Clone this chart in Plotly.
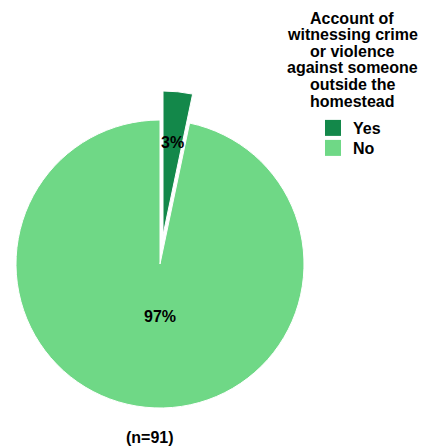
import plotly.graph_objects as go

# ---- data ----
labels = ["Yes", "No"]
values = [3, 88]
colors = ["#13884A", "#6FD886"]
legend_title_lines = ["Account of", "witnessing crime", "or violence",
                      "against someone", "outside the", "homestead"]
sample_note = "(n=91)"

# ---- geometry / style ----
W, H = 425, 446
FONT = "Liberation Sans, Arial, sans-serif"
cx, cy, r = 160, 264, 144          # main pie centre and radius (px)
pull_dx, pull_dy = 3, -29          # offset of the exploded slice (px)

def dom(x0, y0, rad):
    return dict(x=[(x0 - rad) / W, (x0 + rad) / W],
                y=[1 - (y0 + rad) / H, 1 - (y0 - rad) / H])

total = sum(values)
pcts = [round(v / total * 100) for v in values]
clear = "rgba(0,0,0,0)"

fig = go.Figure()
# remaining (not exploded) slice
fig.add_trace(go.Pie(
    labels=labels, values=values, sort=False, direction="clockwise",
    marker=dict(colors=[clear, colors[1]],
                line=dict(color=[clear, "white"], width=1)),
    textinfo="none", hoverinfo="skip", showlegend=False,
    domain=dom(cx, cy, r)))
# exploded slice
fig.add_trace(go.Pie(
    labels=labels, values=values, sort=False, direction="clockwise",
    marker=dict(colors=[colors[0], clear],
                line=dict(color=["white", clear], width=1)),
    textinfo="none", hoverinfo="skip", showlegend=False,
    domain=dom(cx + pull_dx, cy + pull_dy, r)))

# legend entries (one legend per entry for exact spacing)
legend_ids = ["legend", "legend2"]
for lab, col, lg in zip(labels, colors, legend_ids):
    fig.add_trace(go.Scatter(x=[None], y=[None], mode="markers", name=lab,
                             marker=dict(symbol="square", size=16, color=col),
                             showlegend=True, legend=lg, hoverinfo="skip"))

ann = []
# slice labels
label_pos = [(172, 143), (160, 316)]
for p, (x, y) in zip(pcts, label_pos):
    ann.append(dict(text=f"{p}%", x=x / W, y=1 - y / H, xref="paper", yref="paper",
                    showarrow=False, xanchor="center", yanchor="middle",
                    font=dict(family=FONT, size=16, color="black", weight="bold")))
# legend title lines
for i, line in enumerate(legend_title_lines):
    ann.append(dict(text=line, x=352 / W, y=1 - (18 + 16.6 * i) / H,
                    xref="paper", yref="paper", showarrow=False,
                    xanchor="center", yanchor="middle",
                    font=dict(family=FONT, size=16, color="black", weight="bold")))
ann.append(dict(text=sample_note, x=150 / W, y=1 - 437 / H, xref="paper", yref="paper",
                showarrow=False, xanchor="center", yanchor="middle",
                font=dict(family=FONT, size=16, color="black", weight="bold")))

leg_font = dict(family=FONT, size=16, color="black", weight="bold")
fig.update_layout(
    width=W, height=H, autosize=False,
    margin=dict(l=0, r=0, t=0, b=0),
    paper_bgcolor="white", plot_bgcolor="white",
    xaxis=dict(visible=False, fixedrange=True), yaxis=dict(visible=False, fixedrange=True),
    annotations=ann,
    legend=dict(x=313 / W, y=1 - 111 / H, xanchor="left", yanchor="top",
                bgcolor=clear, font=leg_font, itemclick=False, itemdoubleclick=False),
    legend2=dict(x=313 / W, y=1 - 131 / H, xanchor="left", yanchor="top",
                 bgcolor=clear, font=leg_font, itemclick=False, itemdoubleclick=False),
)

fig.write_html("out.html", config={"displayModeBar": False},
               post_script="document.body.style.margin='0';")
